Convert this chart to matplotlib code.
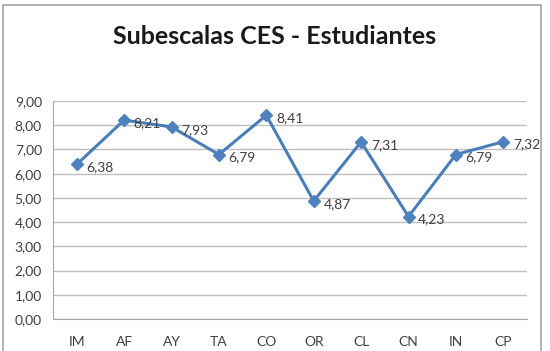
import matplotlib
matplotlib.use("Agg")
import matplotlib.pyplot as plt
from matplotlib.patches import Rectangle
from matplotlib.ticker import FuncFormatter, MultipleLocator

categories = ["IM", "AF", "AY", "TA", "CO", "OR", "CL", "CN", "IN", "CP"]
values = [6.38, 8.21, 7.93, 6.79, 8.41, 4.87, 7.31, 4.23, 6.79, 7.32]
title = "Subescalas CES - Estudiantes"

plt.rcParams['font.family'] = ['Lato', 'DejaVu Sans']

fig = plt.figure(figsize=(5.5, 3.51), dpi=100)
fig.patch.set_facecolor("white")
fig.add_artist(Rectangle((3/550, -0.01), 538/550, (351-5)/351 + 0.01,
                         transform=fig.transFigure, fill=False,
                         edgecolor="#A6A6A6", linewidth=1.2))

ax = fig.add_axes([53/550, (351-319)/351, (527-53)/550, (319-101)/351])
x = list(range(len(categories)))
ax.plot(x, values, color="#4A7EBB", linewidth=2.2, marker="D",
        markersize=6.5, markerfacecolor="#4F81BD", markeredgecolor="#4F81BD")
for xi, v in zip(x, values):
    ax.annotate(f"{v:.2f}".replace(".", ","), (xi, v), xytext=(7, -2),
                textcoords="offset points", ha="left", va="center",
                fontsize=10, color="#404040")

ax.set_xlim(-0.5, len(categories) - 0.5)
ax.set_ylim(0, 9)
ax.yaxis.set_major_locator(MultipleLocator(1))
ax.yaxis.set_major_formatter(FuncFormatter(lambda v, p: f"{v:.2f}".replace(".", ",")))
ax.set_xticks(x)
ax.set_xticklabels(categories)
ax.grid(axis="y", color="#BFBFBF", linewidth=1)
ax.set_axisbelow(True)
for s in ["top", "right"]:
    ax.spines[s].set_visible(False)
for s in ["left", "bottom"]:
    ax.spines[s].set_color("#A6A6A6")
ax.tick_params(axis="both", length=0, labelsize=10, colors="#404040")
ax.tick_params(axis="x", pad=12)
ax.tick_params(axis="y", pad=8)

fig.text(0.5, (351-37)/351, title, ha="center", va="center",
         fontsize=18, fontweight="bold", color="#1a1a1a")

fig.savefig("out.png", dpi=100)
